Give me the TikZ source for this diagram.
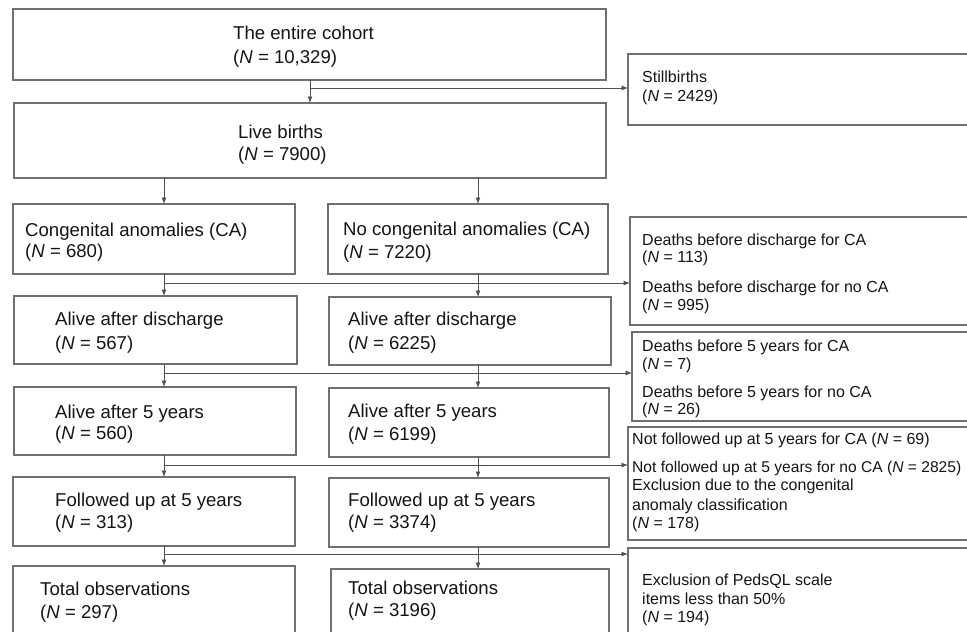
\documentclass[tikz,border=0pt]{standalone}
\usepackage{fontspec}
\setmainfont{Liberation Sans}
\usetikzlibrary{arrows.meta}
\definecolor{boxgray}{HTML}{707070}
\definecolor{linegray}{HTML}{505050}
\definecolor{ink}{HTML}{151515}
\begin{document}
\begin{tikzpicture}[x=1pt,y=-1pt,
  box/.style={draw=boxgray,line width=1.1pt,rectangle,inner sep=0pt,outer sep=0pt},
  mtxt/.style={anchor=base west,inner sep=0pt,text=ink,font=\fontsize{18.6}{22}\selectfont},
  stxt/.style={anchor=base west,inner sep=0pt,text=ink,font=\fontsize{16}{19}\selectfont},
  arr/.style={draw=linegray,line width=0.9pt,-{Latex[length=6.5pt,width=5pt]}}
]
\useasboundingbox (0,0) rectangle (967,632);
\clip (0,0) rectangle (967,632);
\fill[white] (0,0) rectangle (967,632);

% ---------- boxes ----------
\node[box,minimum width=593pt,minimum height=71pt] (top)  at (309.5,44.5) {};
\node[box,minimum width=592pt,minimum height=75pt] (live) at (310,140.5) {};
\node[box,minimum width=282pt,minimum height=70pt] (ca)   at (154,239) {};
\node[box,minimum width=280pt,minimum height=70pt] (noca) at (468,239) {};
\node[box,minimum width=283pt,minimum height=68pt] (ad1)  at (155.5,330) {};
\node[box,minimum width=282pt,minimum height=68pt] (ad2)  at (470,331) {};
\node[box,minimum width=282pt,minimum height=68pt] (af1)  at (155,421) {};
\node[box,minimum width=280pt,minimum height=69pt] (af2)  at (469,422.5) {};
\node[box,minimum width=282pt,minimum height=69pt] (fu1)  at (154,511.5) {};
\node[box,minimum width=280pt,minimum height=69pt] (fu2)  at (469,512.5) {};
\node[box,minimum width=282pt,minimum height=94pt] (to1)  at (154,613) {};
\node[box,minimum width=278pt,minimum height=91pt] (to2)  at (470,614.5) {};
\node[box,minimum width=362pt,minimum height=71pt] (still) at (809,89.5) {};
\node[box,minimum width=360pt,minimum height=108pt] (dd)  at (810,271) {};
\node[box,minimum width=358pt,minimum height=89pt] (d5)   at (811,376.5) {};
\node[box,minimum width=362pt,minimum height=113pt] (nf)  at (809,483.5) {};
\node[box,minimum width=362pt,minimum height=112pt] (ex)  at (809,604) {};

% ---------- texts ----------
\node[mtxt] (t1) at (233,39) {The entire cohort};
\node[mtxt] (t2) at (233,63) {(\textit{N} = 10,329)};
\node[mtxt] (t3) at (238,138) {Live births};
\node[mtxt] (t4) at (238,160) {(\textit{N} = 7900)};
\node[mtxt] (t5) at (25,236) {Congenital anomalies (CA)};
\node[mtxt] (t6) at (25,257) {(\textit{N} = 680)};
\node[mtxt] (t7) at (343,235) {No congenital anomalies (CA)};
\node[mtxt] (t8) at (343,258) {(\textit{N} = 7220)};
\node[mtxt] (t9) at (55,325) {Alive after discharge};
\node[mtxt] (t10) at (55,349) {(\textit{N} = 567)};
\node[mtxt] (t11) at (348,325) {Alive after discharge};
\node[mtxt] (t12) at (348,349) {(\textit{N} = 6225)};
\node[mtxt] (t13) at (55,418) {Alive after 5 years};
\node[mtxt] (t14) at (55,439) {(\textit{N} = 560)};
\node[mtxt] (t15) at (348,417) {Alive after 5 years};
\node[mtxt] (t16) at (348,440) {(\textit{N} = 6199)};
\node[mtxt] (t17) at (55,506) {Followed up at 5 years};
\node[mtxt] (t18) at (55,528) {(\textit{N} = 313)};
\node[mtxt] (t19) at (348,506) {Followed up at 5 years};
\node[mtxt] (t20) at (348,528) {(\textit{N} = 3374)};
\node[mtxt] (t21) at (40,595) {Total observations};
\node[mtxt] (t22) at (40,618) {(\textit{N} = 297)};
\node[mtxt] (t23) at (348,594) {Total observations};
\node[mtxt] (t24) at (348,616) {(\textit{N} = 3196)};

\node[stxt] (s1) at (642,82) {Stillbirths};
\node[stxt] (s2) at (642,101) {(\textit{N} = 2429)};
\node[stxt] (s3) at (642,245) {Deaths before discharge for CA};
\node[stxt] (s4) at (642,262) {(\textit{N} = 113)};
\node[stxt] (s5) at (642,292) {Deaths before discharge for no CA};
\node[stxt] (s6) at (642,310) {(\textit{N} = 995)};
\node[stxt] (s7) at (642,351) {Deaths before 5 years for CA};
\node[stxt] (s8) at (642,369) {(\textit{N} = 7)};
\node[stxt] (s9) at (642,397) {Deaths before 5 years for no CA};
\node[stxt] (s10) at (642,414) {(\textit{N} = 26)};
\node[stxt] (s11) at (632,444) {Not followed up at 5 years for CA (\textit{N} = 69)};
\node[stxt,font=\fontsize{15.6}{19}\selectfont] (s12) at (632,472) {Not followed up at 5 years for no CA (\textit{N} = 2825)};
\node[stxt] (s13) at (632,490) {Exclusion due to the congenital};
\node[stxt] (s14) at (632,510) {anomaly classification};
\node[stxt] (s15) at (632,528) {(\textit{N} = 178)};
\node[stxt] (s16) at (642,585) {Exclusion of PedsQL scale};
\node[stxt] (s17) at (642,604) {items less than 50\%};
\node[stxt] (s18) at (642,622) {(\textit{N} = 194)};

% ---------- connectors ----------
\coordinate (xA) at (310,0);
\coordinate (xL) at (164,0);
\coordinate (xR) at (478,0);
\coordinate (b0) at (310,88);
\coordinate (b1) at (164,283);
\coordinate (b2) at (164,373);
\coordinate (b3) at (164,465);
\coordinate (b4) at (164,554);

\draw[arr] (xA |- top.south) -- (xA |- live.north);
\draw[arr] (b0) -- (b0 -| still.west);

\draw[arr] (xL |- live.south) -- (xL |- ca.north);
\draw[arr] (xR |- live.south) -- (xR |- noca.north);

\draw[arr] (xL |- ca.south) -- (xL |- ad1.north);
\draw[arr] (xR |- noca.south) -- (xR |- ad2.north);
\draw[arr] (b1) -- (b1 -| dd.west);

\draw[arr] (xL |- ad1.south) -- (xL |- af1.north);
\draw[arr] (xR |- ad2.south) -- (xR |- af2.north);
\draw[arr] (b2) -- (b2 -| d5.west);

\draw[arr] (xL |- af1.south) -- (xL |- fu1.north);
\draw[arr] (xR |- af2.south) -- (xR |- fu2.north);
\draw[arr] (b3) -- (b3 -| nf.west);

\draw[arr] (xL |- fu1.south) -- (xL |- to1.north);
\draw[arr] (xR |- fu2.south) -- (xR |- to2.north);
\draw[arr] (b4) -- (b4 -| ex.west);
\end{tikzpicture}
\end{document}
